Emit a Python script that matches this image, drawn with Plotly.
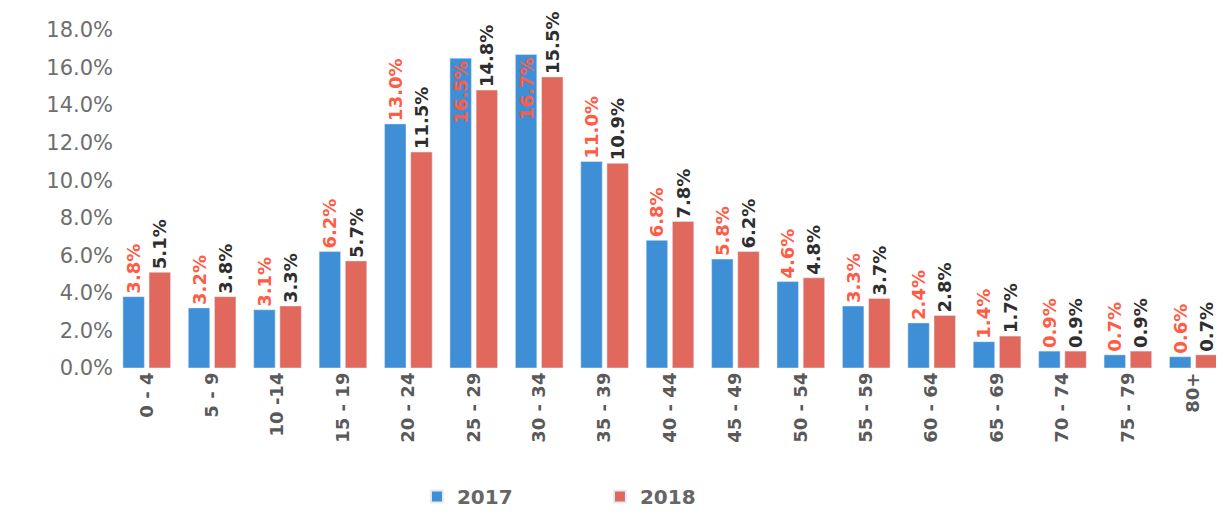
import plotly.graph_objects as go

categories = ["0 - 4", "5 - 9", "10 -14", "15 - 19", "20 - 24", "25 - 29", "30 - 34",
              "35 - 39", "40 - 44", "45 - 49", "50 - 54", "55 - 59", "60 - 64",
              "65 - 69", "70 - 74", "75 - 79", "80+"]
values_2017 = [3.8, 3.2, 3.1, 6.2, 13.0, 16.5, 16.7, 11.0, 6.8, 5.8, 4.6, 3.3, 2.4, 1.4, 0.9, 0.7, 0.6]
values_2018 = [5.1, 3.8, 3.3, 5.7, 11.5, 14.8, 15.5, 10.9, 7.8, 6.2, 4.8, 3.7, 2.8, 1.7, 0.9, 0.9, 0.7]

BLUE = "#3E8FD6"
RED = "#E0685D"
FONT = "DejaVu Sans"

pos_2017 = ["inside" if v > 16 else "outside" for v in values_2017]

fig = go.Figure()
fig.add_trace(go.Bar(
    x=categories, y=values_2017, name="2017", marker_color=BLUE,
    texttemplate="%{y:.1f}%", textposition=pos_2017, textangle=-90,
    insidetextanchor="end", constraintext="none", cliponaxis=False,
    textfont=dict(family=FONT, size=18, color="#FF5B45", weight="bold"),
))
fig.add_trace(go.Bar(
    x=categories, y=values_2018, name="2018", marker_color=RED,
    texttemplate="%{y:.1f}%", textposition="outside", textangle=-90,
    constraintext="none", cliponaxis=False,
    textfont=dict(family=FONT, size=18, color="#2E2E2E", weight="bold"),
))

fig.update_layout(
    width=1224, height=514,
    margin=dict(l=106, r=6, t=22, b=146),
    paper_bgcolor="white", plot_bgcolor="white",
    barmode="group", bargap=0.2, bargroupgap=0.18,
    showlegend=True,
    legend=dict(orientation="h", x=0.437, xanchor="center", y=-0.38, yanchor="middle",
                font=dict(family=FONT, size=20, color="#666666", weight="bold"),
                entrywidth=138, itemsizing="constant"),
    font=dict(family=FONT),
)
fig.update_xaxes(
    type="category", tickangle=-90, showgrid=False, showline=False, ticks="",
    tickfont=dict(family=FONT, size=18, color="#595959", weight="bold"),
)
fig.update_yaxes(
    range=[0, 18], dtick=2, tickformat=".1f", ticksuffix="%", showgrid=False,
    zeroline=False, showline=False, ticks="",
    tickfont=dict(family=FONT, size=21, color="#6E6E6E"),
)

fig.write_html("out.html")
